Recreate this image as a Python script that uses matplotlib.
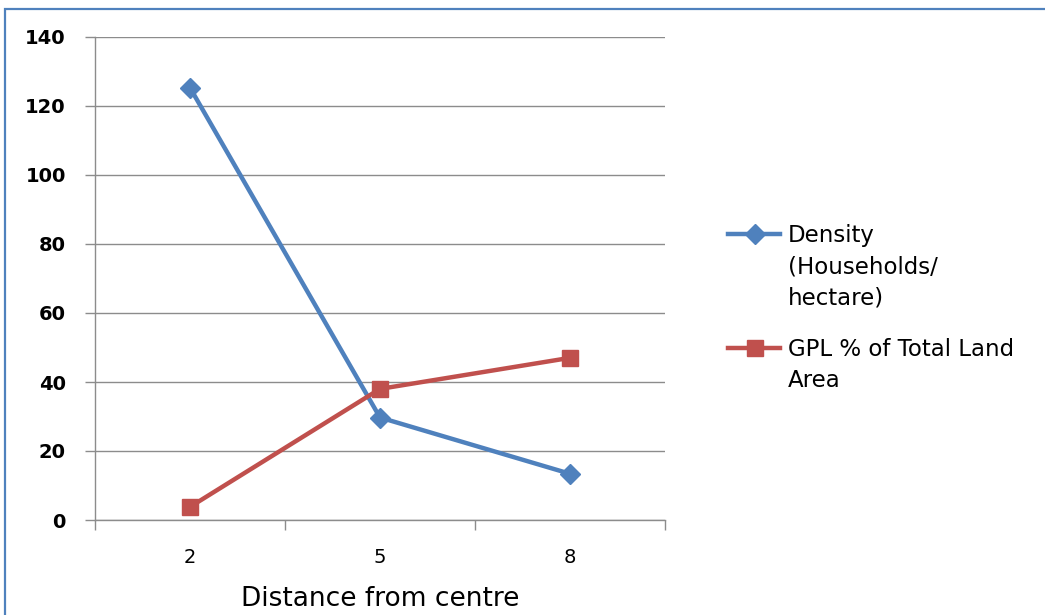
import matplotlib
matplotlib.use("Agg")
import matplotlib.pyplot as plt
from matplotlib.patches import Rectangle
from matplotlib.lines import Line2D

categories = ["2", "5", "8"]
density = [125.3, 29.7, 13.4]
gpl_pct = [3.8, 38.0, 47.0]
series_names = ["Density\n(Households/\nhectare)", "GPL % of Total Land\nArea"]
y_ticks = [0, 20, 40, 60, 80, 100, 120, 140]

blue = "#4F81BD"
red = "#C0504D"
grid_col = "#8C8C8C"

fig = plt.figure(figsize=(10.45, 6.15), dpi=100)
W, H = 1045, 615

# chart frame
fig.patches.append(Rectangle((5 / W, -0.1), 1.2, (H - 9) / H + 0.1,
                             transform=fig.transFigure, fill=False,
                             edgecolor=blue, linewidth=1.6))

ax = fig.add_axes([95 / W, (H - 520) / H, (665 - 95) / W, (520 - 37) / H])
x = list(range(len(categories)))
ax.plot(x, density, color=blue, linewidth=3.2, marker="D", markersize=10)
ax.plot(x, gpl_pct, color=red, linewidth=3.2, marker="s", markersize=12)

ax.set_xlim(-0.5, len(categories) - 0.5)
ax.set_ylim(0, 140)
ax.set_yticks(y_ticks)
ax.set_yticklabels([str(v) for v in y_ticks], fontsize=14, fontweight="bold")
ax.set_xticks(x)
ax.set_xticklabels(categories, fontsize=14)
ax.tick_params(axis="x", length=0, pad=20)
ax.set_xticks([i - 0.5 for i in range(len(categories) + 1)], minor=True)
ax.tick_params(axis="x", which="minor", length=7, color=grid_col, width=1)
ax.tick_params(axis="y", length=7, color=grid_col, width=1, pad=14)
ax.yaxis.grid(True, color=grid_col, linewidth=1)
ax.set_axisbelow(True)
for s in ["top", "right"]:
    ax.spines[s].set_visible(False)
for s in ["left", "bottom"]:
    ax.spines[s].set_color(grid_col)
    ax.spines[s].set_linewidth(1)
ax.set_xlabel("Distance from centre", fontsize=19, labelpad=14)

# legend: handle aligned with the first line of each entry
legend_entries = [(series_names[0], blue, "D", 10, 234),
                  (series_names[1], red, "s", 12, 348)]
for label, col, mk, ms, ypx in legend_entries:
    yf = 1 - ypx / H
    fig.add_artist(Line2D([728 / W, 780 / W], [yf, yf], transform=fig.transFigure,
                          color=col, linewidth=3.2))
    fig.add_artist(Line2D([755 / W], [yf], transform=fig.transFigure,
                          color=col, marker=mk, markersize=ms, linestyle="none"))
    fig.text(788 / W, 1 - (ypx - 10) / H, label, fontsize=16.5, va="top",
             ha="left", linespacing=1.45)

fig.savefig("out.png", dpi=100)
